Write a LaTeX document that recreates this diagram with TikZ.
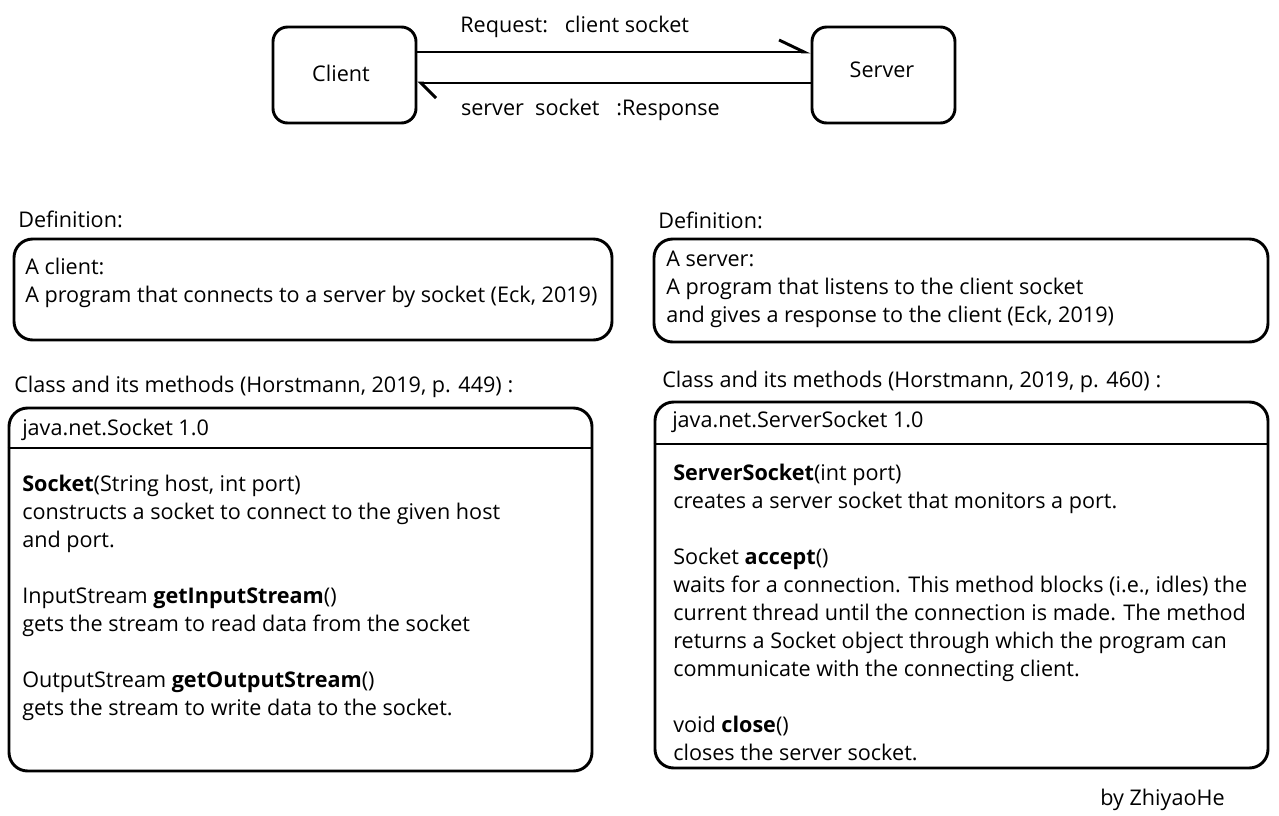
\documentclass[tikz,border=0pt]{standalone}
\usepackage{fontspec}
\setmainfont{Open Sans}
\usetikzlibrary{positioning, calc, fit, arrows.meta}

\begin{document}
\begin{tikzpicture}[
    x=0.75pt, y=-0.75pt,
    thickline/.style={line width=2.2pt},
    endbox/.style={draw, line width=2.2pt, rounded corners=11pt, inner sep=0pt},
    infobox/.style={draw, line width=2.2pt, rounded corners=14pt, inner sep=0pt},
    txt/.style={inner sep=0pt, align=left, font=\fontsize{16.2pt}{21pt}\selectfont},
]
    \useasboundingbox (0,0) rectangle (1279,815);

    % client and server
    \node[endbox, fit={(273,27) (416,123)}] (client) {};
    \node[endbox, fit={(812,27) (955,123)}] (server) {};
    \node[txt] (client text) at (341,73) {Client};
    \node[txt] (server text) at (882,70) {Server};

    \draw[thickline, -{Straight Barb[left, length=18.75pt, width=18pt]}]
        ($(client.east)+(0,-23)$) -- ($(server.west)+(0,-23)$)
        node[txt, pos=0.40, yshift=19pt] (request) {Request:\ \ \ client socket};
    \draw[thickline, -{Straight Barb[left, length=11.25pt, width=22.5pt]}]
        ($(server.west)+(0,8)$) -- ($(client.east)+(0,8)$)
        node[txt, pos=0.56, yshift=-20pt] (response) {server\ \ socket\ \ \ :Response};

    % definitions
    \node[txt, anchor=west] (def left) at (18,219) {Definition:};
    \node[txt, anchor=west] (def right) at (658,220) {Definition:};
    \node[infobox, fit={(14,239) (612,340)}] (defL) {};
    \node[infobox, fit={(654,239) (1268,342)}] (defR) {};
    \node[txt, anchor=north west] (defL text) at (25,258)
        {A client:\\A program that connects to a server by socket (Eck, 2019)};
    \node[txt, anchor=north west] (defR text) at (666,251)
        {A server:\\A program that listens to the client socket\\and gives a response to the client (Eck, 2019)};

    % classes
    \node[txt, anchor=west] (cls left) at (14,387) {Class and its methods (Horstmann, 2019, p. 449) :};
    \node[txt, anchor=west] (cls right) at (662,382) {Class and its methods (Horstmann, 2019, p. 460) :};
    \node[infobox, fit={(9,408) (592,771)}] (clsL) {};
    \node[infobox, fit={(655,402) (1268,768)}] (clsR) {};
    \draw[thickline] (clsL.west |- 0,448) -- (clsL.east |- 0,448);
    \draw[thickline] (clsR.west |- 0,444) -- (clsR.east |- 0,444);
    \node[txt, anchor=west] (clsL head) at (22,430) {java.net.Socket 1.0};
    \node[txt, anchor=west] (clsR head) at (672,422) {java.net.ServerSocket 1.0};
    \node[txt, anchor=north west] (clsL body) at (22,475)
        {\textbf{Socket}(String host, int port)\\
         constructs a socket to connect to the given host\\
         and port.\\[21pt]
         InputStream \textbf{getInputStream}()\\
         gets the stream to read data from the socket\\[21pt]
         OutputStream \textbf{getOutputStream}()\\
         gets the stream to write data to the socket.};
    \node[txt, anchor=north west] (clsR body) at (673,464)
        {\textbf{ServerSocket}(int port)\\
         creates a server socket that monitors a port.\\[21pt]
         Socket \textbf{accept}()\\
         waits for a connection. This method blocks (i.e., idles) the\\
         current thread until the connection is made. The method\\
         returns a Socket object through which the program can\\
         communicate with the connecting client.\\[21pt]
         void \textbf{close}()\\
         closes the server socket.};

    \node[txt, anchor=west] (author) at (1100,800) {by ZhiyaoHe};
\end{tikzpicture}
\end{document}
